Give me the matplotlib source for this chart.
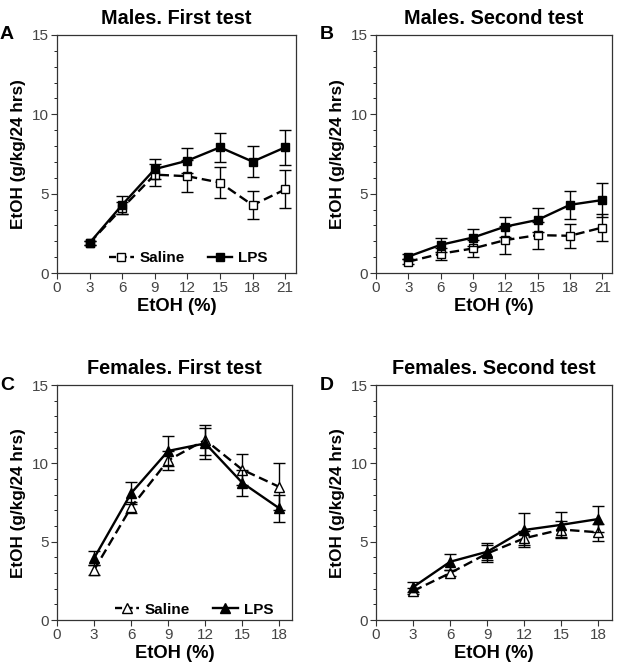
import numpy as np
import matplotlib
matplotlib.use("Agg")
import matplotlib.pyplot as plt
from matplotlib.ticker import MultipleLocator
from matplotlib.lines import Line2D

plt.rcParams['font.family'] = ['Liberation Sans', 'DejaVu Sans']

# x values (EtOH %)
x_males = [3, 6, 9, 12, 15, 18, 21]
x_females = [3, 6, 9, 12, 15, 18]

# Males, first test
ma1_sal = [1.9, 4.1, 6.2, 6.1, 5.7, 4.28, 5.27]
ma1_sal_err = [0.15, 0.4, 0.7, 1.0, 0.95, 0.9, 1.2]
ma1_lps = [1.9, 4.3, 6.55, 7.08, 7.92, 7.02, 7.92]
ma1_lps_err = [0.15, 0.55, 0.65, 0.8, 0.92, 0.97, 1.1]

# Males, second test
ma2_sal = [0.72, 1.22, 1.55, 2.08, 2.39, 2.35, 2.87]
ma2_sal_err = [0.15, 0.38, 0.56, 0.88, 0.85, 0.77, 0.85]
ma2_lps = [1.04, 1.78, 2.24, 2.93, 3.35, 4.3, 4.6]
ma2_lps_err = [0.15, 0.45, 0.52, 0.63, 0.74, 0.9, 1.05]

# Females, first test
fe1_sal = [3.2, 7.2, 10.2, 11.5, 9.6, 8.5]
fe1_sal_err = [0.3, 0.35, 0.6, 0.95, 1.0, 1.5]
fe1_lps = [3.95, 8.1, 10.8, 11.28, 8.76, 7.13]
fe1_lps_err = [0.45, 0.72, 0.96, 1.0, 0.83, 0.86]

# Females, second test
fe2_sal = [1.85, 3.0, 4.25, 5.22, 5.78, 5.6]
fe2_sal_err = [0.2, 0.22, 0.55, 0.45, 0.55, 0.55]
fe2_lps = [2.1, 3.72, 4.36, 5.75, 6.08, 6.45]
fe2_lps_err = [0.3, 0.5, 0.55, 1.07, 0.8, 0.85]

fig = plt.figure(figsize=(6.21, 6.71), dpi=100)

# label, title, rect, x, saline, err, lps, err, marker, xmax, legend anchor
panels = [
    ('A', 'Males. First test', [0.0918, 0.593, 0.385, 0.355], x_males, ma1_sal, ma1_sal_err, ma1_lps, ma1_lps_err, 's', 22, (0.94, -0.025)),
    ('B', 'Males. Second test', [0.6055, 0.593, 0.380, 0.355], x_males, ma2_sal, ma2_sal_err, ma2_lps, ma2_lps_err, 's', 21.9, None),
    ('C', 'Females. First test', [0.0918, 0.076, 0.378, 0.350], x_females, fe1_sal, fe1_sal_err, fe1_lps, fe1_lps_err, '^', 19, (0.98, -0.045)),
    ('D', 'Females. Second test', [0.6055, 0.076, 0.380, 0.350], x_females, fe2_sal, fe2_sal_err, fe2_lps, fe2_lps_err, '^', 19.1, None),
]

for label, title, rect, xs, sal, sal_err, lps, lps_err, mk, xmax, leg_pos in panels:
    ax = fig.add_axes(rect)
    ms = 6 if mk == 's' else 6.5
    ax.errorbar(xs, sal, yerr=sal_err, color='black', ls=(0, (4, 2)), lw=1.7,
                marker=mk, ms=ms, mfc='white', mec='black', mew=1.0,
                capsize=4, elinewidth=1.0, capthick=1.0, zorder=3)
    ax.errorbar(xs, lps, yerr=lps_err, color='black', ls='-', lw=1.7,
                marker=mk, ms=ms, mfc='black', mec='black', mew=1.0,
                capsize=4, elinewidth=1.0, capthick=1.0, zorder=4)
    ax.set_xlim(0, xmax)
    ax.set_ylim(0, 15)
    ax.set_xticks([0] + list(xs))
    ax.set_yticks([0, 5, 10, 15])
    ax.yaxis.set_minor_locator(MultipleLocator(1))
    ax.tick_params(axis='both', which='major', labelsize=11, direction='out',
                   length=4, width=0.8, colors='#333333', labelcolor='#444444', pad=2)
    ax.tick_params(axis='y', which='minor', direction='out', length=2, width=0.6)
    for sp in ax.spines.values():
        sp.set_linewidth(0.9)
        sp.set_color('#333333')
    ax.set_xlabel('EtOH (%)', fontsize=13.2, fontweight='bold', labelpad=2)
    ax.set_ylabel('EtOH (g/kg/24 hrs)', fontsize=12.3, fontweight='bold', labelpad=4)
    ax.set_title(title, fontsize=14.3, fontweight='bold', pad=8)
    ax.text(-0.21, 1.0, label, transform=ax.transAxes, fontsize=14,
            fontweight='bold', ha='center', va='center')
    if leg_pos is not None:
        handles = [
            Line2D([], [], color='black', ls=(0, (3, 1.5)), lw=1.7, marker=mk,
                   ms=ms, mfc='white', mec='black'),
            Line2D([], [], color='black', ls='-', lw=1.7, marker=mk,
                   ms=ms, mfc='black', mec='black'),
        ]
        ax.legend(handles, ['Saline', 'LPS'], loc='lower right', ncol=2,
                  frameon=False, prop={'weight': 'bold', 'size': 11},
                  handlelength=1.6, columnspacing=1.5, handletextpad=0.4,
                  bbox_to_anchor=leg_pos)

fig.savefig('out.png', dpi=100)
